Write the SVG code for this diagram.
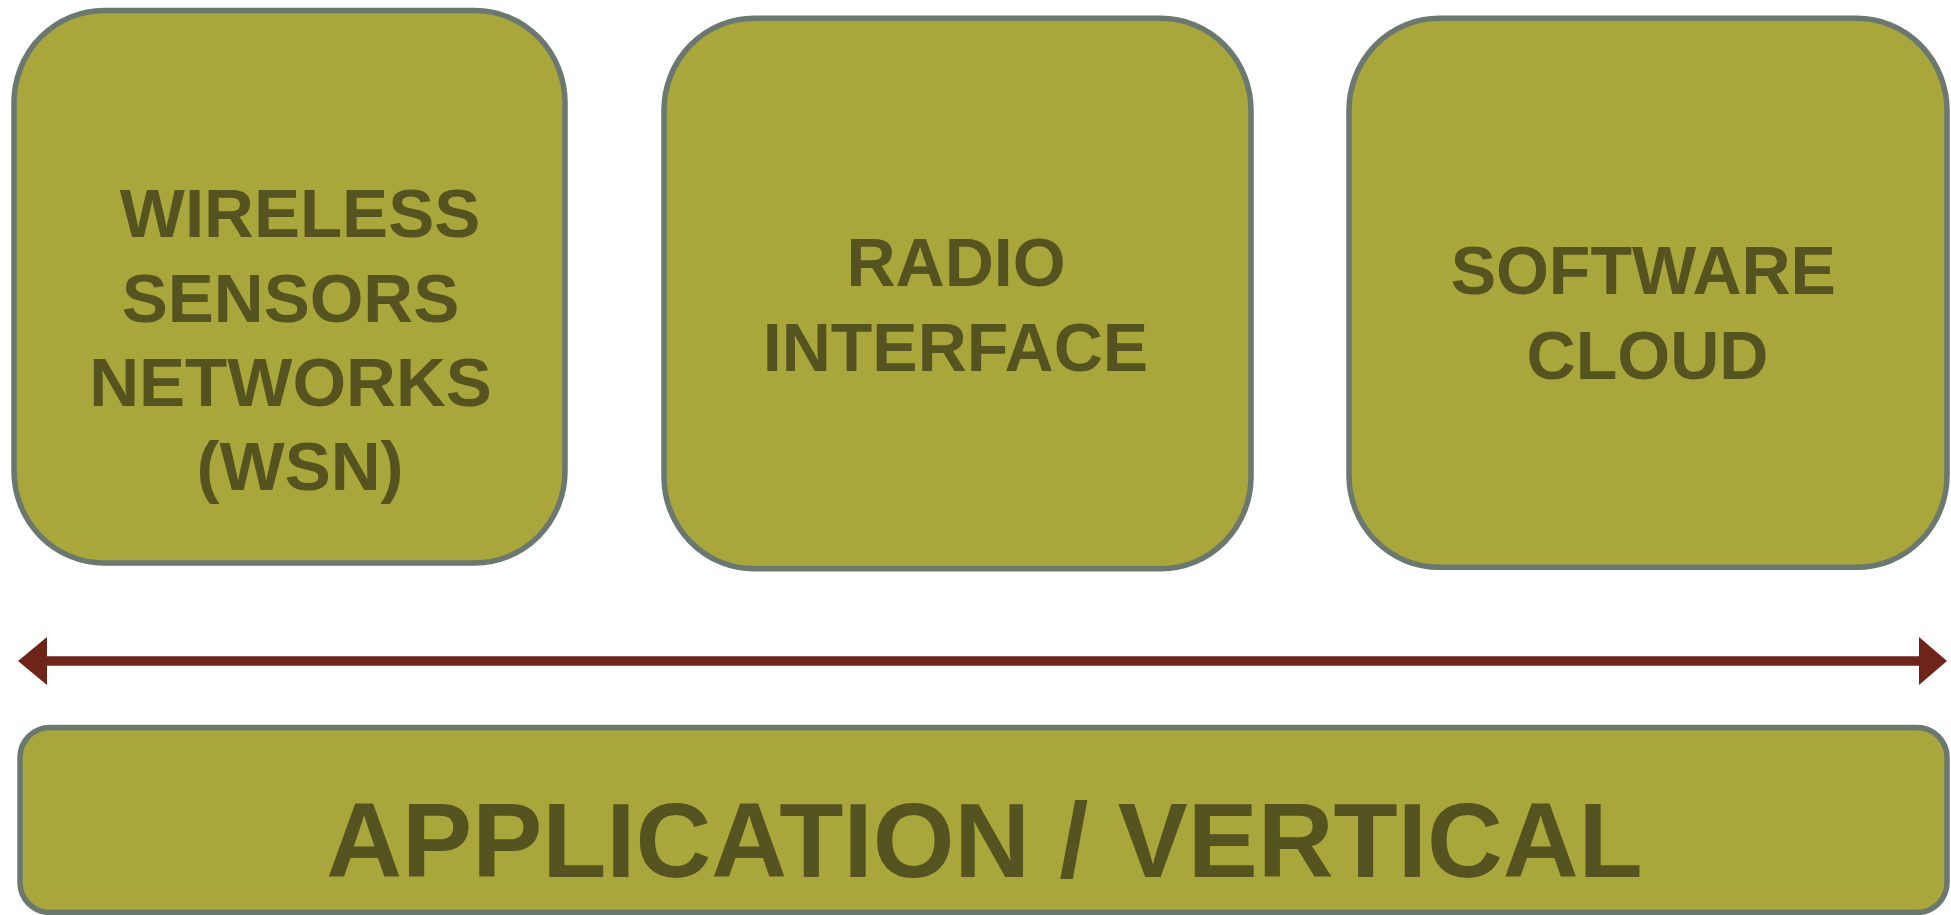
<svg xmlns="http://www.w3.org/2000/svg" width="1951" height="915" viewBox="0 0 1951 915">
  <style>
    .box { fill: #A9A63B; stroke: #6B786F; stroke-width: 5.5; }
    .label { font-family: "Liberation Sans", Arial, sans-serif; font-weight: bold; fill: #555320; text-anchor: middle; }
    .top { font-size: 69px; }
    .mid { font-size: 68px; }
    .wide { font-size: 105px; }
    .link { stroke: #6F2419; stroke-width: 9.5; fill: none; }
    .head { fill: #6F2419; }
  </style>

  <!-- upper row of layers -->
  <g id="wsn">
    <rect class="box" x="14" y="10.5" width="551" height="552.5" rx="90" ry="92"/>
    <text class="label top" x="300" y="237">WIRELESS</text>
    <text class="label top" x="290.5" y="322">SENSORS</text>
    <text class="label top" x="290.5" y="405.7">NETWORKS</text>
    <text class="label top" x="300" y="490">(WSN)</text>
  </g>

  <g id="radio-interface">
    <rect class="box" x="664" y="18.3" width="587" height="550.4" rx="90" ry="92"/>
    <text class="label mid" x="956" y="285.7">RADIO</text>
    <text class="label mid" x="955.5" y="371">INTERFACE</text>
  </g>

  <g id="software-cloud">
    <rect class="box" x="1349" y="18.3" width="598" height="549" rx="90" ry="92"/>
    <text class="label mid" x="1643.3" y="294.3">SOFTWARE</text>
    <text class="label mid" x="1647.5" y="379">CLOUD</text>
  </g>

  <!-- double-headed span arrow -->
  <g id="connectors">
    <line class="link" x1="46" y1="661" x2="1920" y2="661"/>
    <polygon class="head" points="18,661 47,637 47,685"/>
    <polygon class="head" points="1947,661 1919,637 1919,685"/>
  </g>

  <!-- base layer -->
  <g id="application">
    <rect class="box" x="20" y="727.5" width="1927" height="185" rx="30" ry="30"/>
    <text class="label wide" x="984.5" y="877.3">APPLICATION / VERTICAL</text>
  </g>
</svg>
